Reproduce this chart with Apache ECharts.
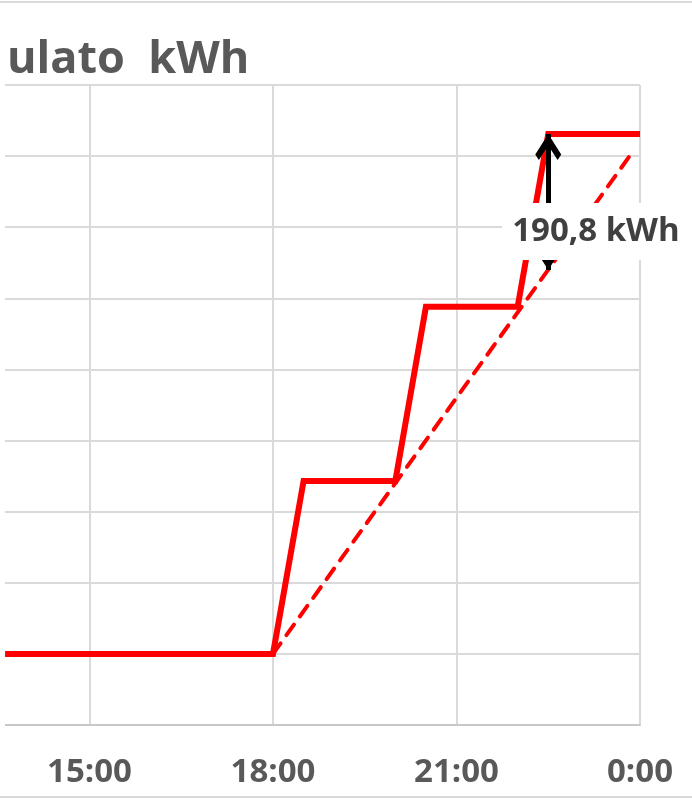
<!DOCTYPE html>
<html>
<head>
<meta charset="utf-8">
<script src="https://cdn.jsdelivr.net/npm/echarts@6/dist/echarts.min.js"></script>
<style>
  html, body { margin: 0; padding: 0; background: #fff; }
  #chart { width: 692px; height: 800px; }
</style>
</head>
<body>
<div id="chart"></div>
<script>
// hours of day (24 = midnight) and cumulative kWh
var stepHours = [13.62, 18, 18.5, 20, 20.5, 22, 22.5, 24];
var stepKwh = [100, 100, 343, 343, 588, 588, 831, 831];
var trendHours = [18, 23.88];
var trendKwh = [100, 806];
var xTicks = [12, 15, 18, 21, 24];
var gapHour = 22.5;
var gapTop = 831;
var gapBottom = 640;
var gapText = '190,8 kWh';
var gapLabelPos = [23.28, 694];

var chevron = 'path://M50 -66 L50.4 -66 L50 -65.6 Z M50 0 L100 52 L86 66 L50 29 L14 66 L0 52 Z';

var myChart = echarts.init(document.getElementById('chart'));

myChart.setOption({
    animation: false,
    title: {
        text: 'ulato  kWh',
        left: 7,
        top: 38,
        padding: 0,
        textStyle: {
            fontFamily: 'Open Sans',
            fontWeight: 'bold',
            fontSize: 45,
            color: '#595959'
        }
    },
    grid: {
        left: -94,
        right: 52,
        top: 85,
        bottom: 75,
        outerBoundsMode: 'none'
    },
    xAxis: {
        type: 'value',
        min: xTicks[0],
        max: xTicks[xTicks.length - 1],
        interval: 3,
        axisLine: { lineStyle: { color: '#c8c8c8', width: 2 } },
        axisTick: { show: false },
        axisLabel: {
            margin: 31,
            showMinLabel: false,
            fontFamily: 'Open Sans',
            fontWeight: 'bold',
            fontSize: 33,
            color: '#595959',
            formatter: function (v) { return (v % 24) + ':00'; }
        },
        splitLine: { show: true, lineStyle: { color: '#dadada', width: 2 } }
    },
    yAxis: {
        type: 'value',
        min: 0,
        max: 900,
        interval: 100,
        axisLine: { show: false },
        axisTick: { show: false },
        axisLabel: { show: false },
        splitLine: { lineStyle: { color: '#dadada', width: 2 } }
    },
    graphic: [
        { type: 'line', shape: { x1: 0, y1: 2, x2: 692, y2: 2 }, style: { stroke: '#d9d9d9', lineWidth: 2 } },
        { type: 'line', shape: { x1: 0, y1: 797, x2: 692, y2: 797 }, style: { stroke: '#d9d9d9', lineWidth: 2 } },
        // the plot area in the original begins just right of the crop edge
        { type: 'rect', z: 100, shape: { x: 0, y: 80, width: 5, height: 650 }, style: { fill: '#fff' } }
    ],
    series: [
        {
            name: 'Cumulato',
            type: 'line',
            z: 2,
            symbol: 'none',
            data: stepHours.map(function (h, i) { return [h, stepKwh[i]]; }),
            lineStyle: { color: '#ff0000', width: 6, join: 'miter' }
        },
        {
            name: 'Lineare',
            type: 'line',
            z: 3,
            symbol: 'none',
            data: trendHours.map(function (h, i) { return [h, trendKwh[i]]; }),
            lineStyle: { color: '#ff0000', width: 4, type: [13, 10], cap: 'round' },
            markLine: {
                silent: true,
                symbol: [chevron, chevron],
                symbolSize: [26, 52],
                lineStyle: { color: '#000', width: 5, type: 'solid' },
                label: { show: false },
                data: [[{ coord: [gapHour, gapTop] }, { coord: [gapHour, gapBottom] }]]
            },
            markPoint: {
                silent: true,
                symbol: 'rect',
                symbolSize: 1,
                itemStyle: { color: 'rgba(0,0,0,0)' },
                label: {
                    show: true,
                    position: 'inside',
                    formatter: gapText,
                    backgroundColor: '#fff',
                    padding: [12, 10, 12, 10],
                    fontFamily: 'Open Sans',
                    fontWeight: 'bold',
                    fontSize: 33,
                    color: '#404040'
                },
                data: [{ coord: gapLabelPos }]
            }
        }
    ]
});
</script>
</body>
</html>
